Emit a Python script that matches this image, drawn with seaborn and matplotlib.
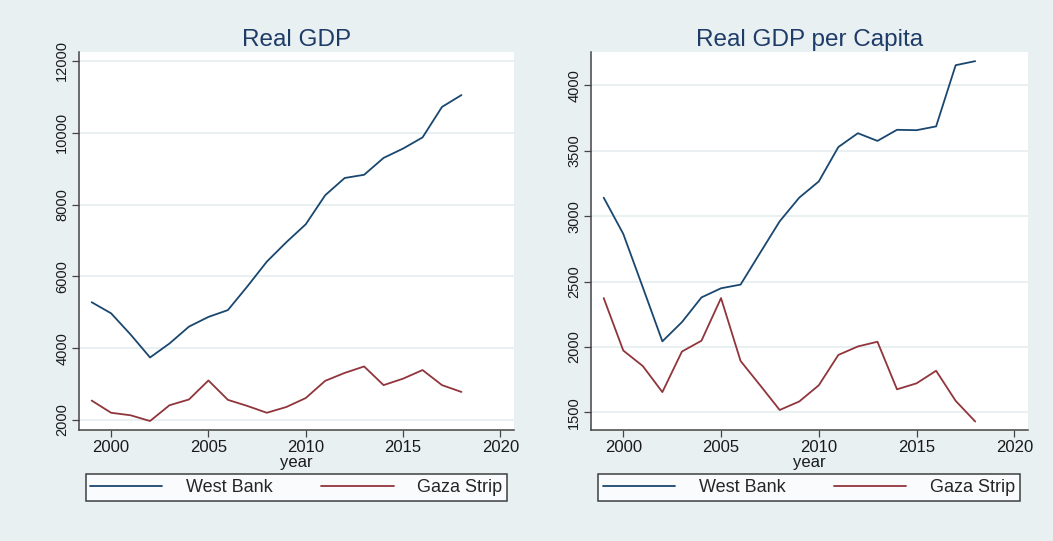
import numpy as np
import pandas as pd
import matplotlib
matplotlib.use("Agg")
import matplotlib.pyplot as plt
import seaborn as sns
from matplotlib.lines import Line2D

years = list(range(1999, 2019))

gdp_west_bank = [5280, 4970, 4380, 3740, 4130, 4600, 4870, 5060, 5720, 6410,
                 6950, 7450, 8260, 8740, 8830, 9300, 9560, 9870, 10720, 11050]
gdp_gaza = [2540, 2200, 2130, 1970, 2410, 2570, 3100, 2560, 2390, 2200,
            2360, 2610, 3090, 3310, 3490, 2970, 3150, 3390, 2970, 2780]

pc_west_bank = [3142, 2865, 2456, 2043, 2190, 2379, 2449, 2477, 2720, 2961,
                3142, 3266, 3529, 3635, 3576, 3661, 3658, 3687, 4155, 4186]
pc_gaza = [2374, 1973, 1854, 1655, 1965, 2048, 2374, 1893, 1707, 1518,
           1583, 1707, 1939, 2004, 2040, 1676, 1722, 1818, 1588, 1430]

series_names = ["West Bank", "Gaza Strip"]
titles = ["Real GDP", "Real GDP per Capita"]
x_ticks = [2000, 2005, 2010, 2015, 2020]
y_ticks_left = [2000, 4000, 6000, 8000, 10000, 12000]
y_ticks_right = [1500, 2000, 2500, 3000, 3500, 4000]

sns.set_theme(style="white")
plt.rcParams["font.family"] = ["Liberation Sans", "DejaVu Sans"]

navy = "#1a476f"
maroon = "#90353b"
bg = "#e8f0f2"
palette = {series_names[0]: navy, series_names[1]: maroon}

W, H = 1053, 541
fig = plt.figure(figsize=(W / 100, H / 100), dpi=100)
fig.patch.set_facecolor(bg)


def make_df(wb, gz):
    return pd.DataFrame({
        "year": years * 2,
        "value": wb + gz,
        "region": [series_names[0]] * len(years) + [series_names[1]] * len(years),
    })


panels = [
    (79, 514, make_df(gdp_west_bank, gdp_gaza), y_ticks_left, (1720, 12250), titles[0], (85.5, 507)),
    (591, 1028, make_df(pc_west_bank, pc_gaza), y_ticks_right, (1365, 4256), titles[1], (598, 1020)),
]

top_px, bot_px = 52, 430
for (x0, x1, df, yt, ylim, title, (lx0, lx1)) in panels:
    ax = fig.add_axes([x0 / W, 1 - bot_px / H, (x1 - x0) / W, (bot_px - top_px) / H])
    ax.set_facecolor("white")
    sns.lineplot(data=df, x="year", y="value", hue="region", palette=palette,
                 ax=ax, linewidth=1.3, legend=False)
    ax.set_xlim(1998.35, 2020.7)
    ax.set_ylim(*ylim)
    ax.set_xticks(x_ticks)
    ax.set_yticks(yt)
    ax.set_yticklabels([str(v) for v in yt], rotation=90, va="center", fontsize=10.5, color="#1a1a1a")
    ax.set_xticklabels([str(v) for v in x_ticks], fontsize=12, color="#1a1a1a")
    ax.yaxis.grid(True, color="#e6eff1", linewidth=1.3)
    ax.xaxis.grid(False)
    for s in ["top", "right"]:
        ax.spines[s].set_visible(False)
    for s in ["left", "bottom"]:
        ax.spines[s].set_color("#444444")
        ax.spines[s].set_linewidth(1.1)
    ax.tick_params(axis="both", which="major", direction="out", length=5, width=0.9,
                   color="#444444", bottom=True, left=True, pad=2)
    ax.set_ylabel("")
    ax.set_xlabel("year", fontsize=12, labelpad=0, color="#1a1a1a")
    ax.set_title(title, fontsize=17.5, color="#1f3b68", pad=4)

    handles = [Line2D([], [], color=navy, lw=1.3), Line2D([], [], color=maroon, lw=1.3)]
    leg = fig.legend(handles, series_names, loc="center",
                     bbox_to_anchor=((lx0 + lx1) / 2 / W, 1 - 487.5 / H),
                     ncol=2, fontsize=13, frameon=True, fancybox=False,
                     handlelength=4.0, handletextpad=1.3, borderaxespad=0, borderpad=0.25,
                     columnspacing=2.7)
    leg.get_frame().set_edgecolor("#111111")
    leg.get_frame().set_linewidth(1.1)
    leg.get_frame().set_facecolor("white")

fig.savefig("out.png", dpi=100, facecolor=bg)
